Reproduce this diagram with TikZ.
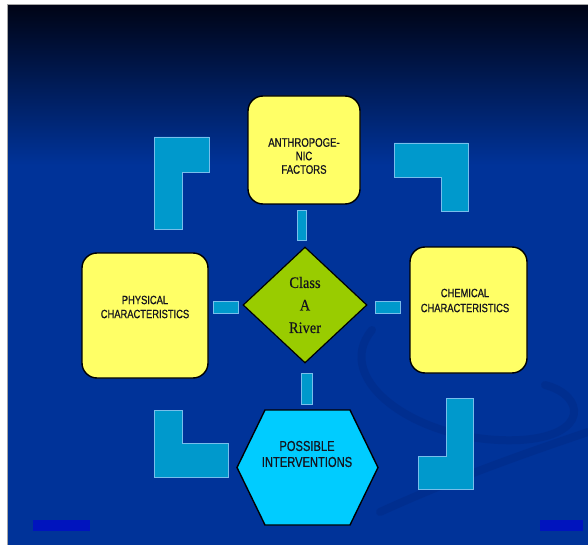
\documentclass[tikz,border=0pt]{standalone}
\usepackage{fontspec}
\usetikzlibrary{shapes.geometric}
\newfontfamily\narrowfont[FakeStretch=0.78,FakeBold=0.7]{Liberation Sans}
\newfontfamily\riverfont[FakeStretch=0.9,FakeBold=0.4]{Liberation Serif}
\definecolor{bgblue}{RGB}{0,51,153}
\definecolor{bgtop}{RGB}{0,4,22}
\definecolor{lfill}{RGB}{0,153,204}
\definecolor{lborder}{RGB}{120,190,235}
\definecolor{boxyellow}{RGB}{255,255,102}
\definecolor{diamondgreen}{RGB}{153,204,0}
\definecolor{hexcyan}{RGB}{0,204,255}
\definecolor{footblue}{RGB}{0,20,190}
\definecolor{swoosh}{RGB}{0,30,110}
\definecolor{textdark}{RGB}{20,20,30}
\tikzset{
  ybox/.style={draw=black, line width=1.4pt, fill=boxyellow, rounded corners=15pt, inner sep=0pt},
  lshape/.style={fill=lfill, draw=lborder, line width=0.8pt},
  linkbar/.style={rectangle, fill=lfill, draw=lborder, line width=0.8pt, inner sep=0pt},
  boxtext/.style={font=\narrowfont\fontsize{12}{14}\selectfont, align=center, text=textdark, inner sep=0pt},
}
\begin{document}
\begin{tikzpicture}[x=1pt,y=-1pt]
\useasboundingbox (0,0) rectangle (588,545);
\fill[white] (0,0) rectangle (588,545);
% background
\fill[bgblue] (8,5) rectangle (588,545);
\shade[top color=bgtop, bottom color=bgblue] (8,5) rectangle (588,165);
\draw[gray!70, line width=0.6pt] (7.5,545) -- (7.5,4.5) -- (588,4.5);
% background swooshes
\begin{scope}[swoosh, opacity=0.22, line width=8pt, line cap=round]
  \draw (372,330) .. controls (330,380) and (420,445) .. (520,440)
        .. controls (590,436) and (585,395) .. (545,385);
  \draw (380,512) .. controls (450,480) and (520,455) .. (588,432);
\end{scope}
% footer marks
\fill[footblue] (33,520) rectangle (90,531);
\fill[footblue] (540,520) rectangle (583,531);
% L shapes
\draw[lshape] (154,137) -- (209,137) -- (209,172) -- (182,172) -- (182,229) -- (154,229) -- cycle;
\draw[lshape] (394,143) -- (468,143) -- (468,211) -- (441,211) -- (441,177) -- (394,177) -- cycle;
\draw[lshape] (154,410) -- (182,410) -- (182,443) -- (228,443) -- (228,477) -- (154,477) -- cycle;
\draw[lshape] (446,398) -- (473,398) -- (473,489) -- (418,489) -- (418,456) -- (446,456) -- cycle;
% main boxes
\node[ybox, minimum width=112pt, minimum height=108pt] (anthro) at (304,150) {};
\node[boxtext, font=\narrowfont\fontsize{12.3}{13.5}\selectfont] (anthrotext) at (304,156) {ANTHROPOGE-\\NIC\\FACTORS};
\node[ybox, minimum width=126pt, minimum height=125pt] (physical) at (145,315.5) {};
\node[boxtext] (physicaltext) at (145,307) {PHYSICAL\\CHARACTERISTICS};
\node[ybox, minimum width=117pt, minimum height=126pt] (chemical) at (468.5,310) {};
\node[boxtext, font=\narrowfont\fontsize{12}{15}\selectfont] (chemicaltext) at (465,300.5) {CHEMICAL\\CHARACTERISTICS};
% centre diamond
\node[diamond, draw=black, line width=1.2pt, fill=diamondgreen, minimum width=124pt, minimum height=116pt, inner sep=0pt,
      font=\riverfont\fontsize{16}{22.5}\selectfont, align=center, text=textdark] (river) at (305,305) {Class\\A\\River};
% hexagon
\coordinate (hexc) at (307.5,467.5);
\draw[fill=hexcyan, draw=black, line width=1.4pt] (237,467.5) -- (265,410) -- (350,410) -- (378,467.5) -- (350,525) -- (265,525) -- cycle;
\node[boxtext, font=\narrowfont\fontsize{14.3}{16}\selectfont] (hextext) at (307,454) {POSSIBLE\\INTERVENTIONS};
% link bars
\node[linkbar, minimum width=9pt, minimum height=30pt] (linktop) at (301.5,225) {};
\node[linkbar, minimum width=25pt, minimum height=12pt] (linkleft) at (225.5,307) {};
\node[linkbar, minimum width=25pt, minimum height=12pt] (linkright) at (387.5,307) {};
\node[linkbar, minimum width=11pt, minimum height=31pt] (linkbottom) at (306.5,388.5) {};
\end{tikzpicture}
\end{document}
